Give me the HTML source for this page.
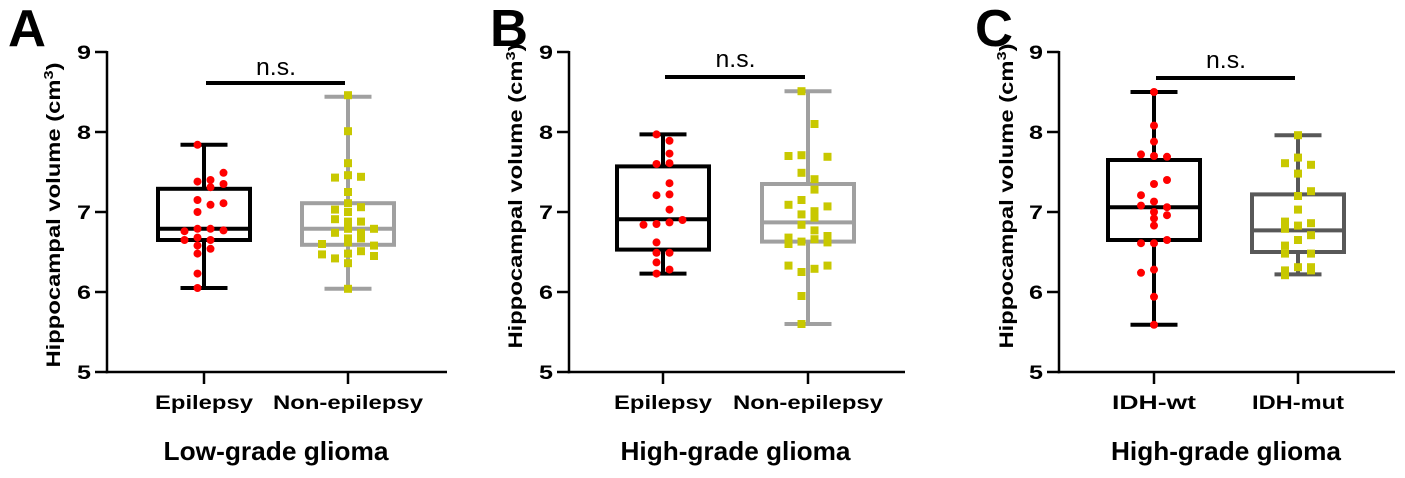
<!DOCTYPE html>
<html><head><meta charset="utf-8">
<style>
html,body{margin:0;padding:0;background:#fff;}
svg{display:block;font-family:"Liberation Sans",Arial,sans-serif;}
</style></head>
<body>
<svg id="fig" width="1405" height="478" viewBox="0 0 1405 478" xmlns="http://www.w3.org/2000/svg"></svg>
<script>
// ---- data ----
const panelLetters = ["A","B","C"];
const groupTitles = ["Low-grade glioma","High-grade glioma","High-grade glioma"];
const categoriesA = ["Epilepsy","Non-epilepsy"];
const categoriesB = ["Epilepsy","Non-epilepsy"];
const categoriesC = ["IDH-wt","IDH-mut"];
const yTicks = [5,6,7,8,9];
const yTickLabels = ["5","6","7","8","9"];
const sigLabel = "n.s.";

// box stats: [min, q1, median, q3, max]
const boxA1 = [6.05,6.65,6.79,7.29,7.84];
const boxA2 = [6.04,6.59,6.79,7.11,8.44];
const boxB1 = [6.23,6.53,6.91,7.57,7.97];
const boxB2 = [5.60,6.63,6.87,7.35,8.51];
const boxC1 = [5.59,6.65,7.06,7.65,8.50];
const boxC2 = [6.22,6.50,6.77,7.22,7.96];

const ptsA1 = [7.84,7.49,7.38,7.40,7.35,7.31,7.15,7.09,7.11,7.00,6.76,6.79,6.79,6.77,6.65,6.65,6.58,6.68,6.54,6.48,6.23,6.05];
const jitA1 = [-0.5,1.5,-0.5,0.5,1.5,0.5,-0.5,0.5,1.5,-0.5,-1.5,-0.5,0.5,1.5,-1.5,0.5,-0.5,-0.5,0.5,-0.5,-0.5,-0.5];
const ptsA2 = [8.46,8.01,7.61,7.43,7.46,7.44,7.25,7.11,7.03,7.06,7.00,6.91,6.88,6.88,6.79,6.79,6.74,6.74,6.67,6.67,6.60,6.58,6.62,6.51,6.48,6.47,6.45,6.42,6.36,6.04];
const jitA2 = [0,0,0,-1,0,1,0,0,-1,1,0,-1,1,0,0,2,-1,1,0,1,-2,2,0,1,0,-2,2,-1,0,0];
const ptsB1 = [7.97,7.89,7.73,7.60,7.61,7.36,7.21,7.22,7.03,6.84,6.85,6.87,6.90,6.62,6.49,6.49,6.37,6.23,6.28];
const jitB1 = [-0.5,0.5,0.5,-0.5,0.5,0.5,-0.5,0.5,0.5,-1.5,-0.5,0.5,1.5,-0.5,-0.5,0.5,-0.5,-0.5,0.5];
const ptsB2 = [8.51,8.10,7.70,7.71,7.69,7.49,7.41,7.28,7.09,7.15,7.07,6.97,7.01,6.93,6.84,6.77,6.68,6.70,6.66,6.63,6.60,6.62,6.33,6.33,6.29,6.25,5.95,5.60];
const jitB2 = [-0.5,0.5,-1.5,-0.5,1.5,-0.5,0.5,0.5,-1.5,-0.5,1.5,-0.5,0.5,0.5,-0.5,0.5,-1.5,1.5,0.5,-0.5,-1.5,1.5,-1.5,1.5,0.5,-0.5,-0.5,-0.5];
const ptsC1 = [8.50,8.08,7.88,7.72,7.70,7.69,7.40,7.35,7.21,7.13,7.08,7.06,7.00,6.96,6.92,6.83,6.61,6.61,6.65,6.28,6.24,5.94,5.59];
const jitC1 = [0,0,0,-1,0,1,1,0,-1,0,-1,1,0,1,0,0,-1,0,1,0,-1,0,0];
const ptsC2 = [7.96,7.68,7.61,7.59,7.48,7.26,7.20,7.03,6.88,6.86,6.83,6.79,6.71,6.65,6.58,6.48,6.48,6.31,6.31,6.27,6.21,6.27];
const jitC2 = [0,0,-1,1,0,1,0,0,-1,1,0,-1,1,0,-1,-1,1,0,1,-1,-1,1];

// ---- layout (not data) ----
const panels = [
  {axisX:107, endX:447, c1:204, c2:348, titleX:60, titleCY:215, letterX:8, cats:categoriesA, boxes:[boxA1,boxA2], pts:[ptsA1,ptsA2], jit:[jitA1,jitA2], colors:["#000","#a0a0a0"], sigY:83, nsY:75, w1:98, w2:150, gw:225},
  {axisX:569, endX:905, c1:663, c2:808, titleX:522, titleCY:196, letterX:490, cats:categoriesB, boxes:[boxB1,boxB2], pts:[ptsB1,ptsB2], jit:[jitB1,jitB2], colors:["#000","#a0a0a0"], sigY:77, nsY:67, w1:98, w2:150, gw:230},
  {axisX:1059, endX:1395, c1:1154, c2:1298, titleX:1013, titleCY:196, letterX:975, cats:categoriesC, boxes:[boxC1,boxC2], pts:[ptsC1,ptsC2], jit:[jitC1,jitC2], colors:["#000","#585858"], sigY:78, nsY:68, w1:84, w2:92, gw:230}
];
const Y0 = 372, PX_PER = 80;
function yScale(v){ return Y0 - (v - 5) * PX_PER; }
const NS = "http://www.w3.org/2000/svg";
const svg = document.getElementById("fig");
function mk(tag, attrs, parent){
  const e = document.createElementNS(NS, tag);
  for (const k in attrs) e.setAttribute(k, attrs[k]);
  (parent || svg).appendChild(e);
  return e;
}

panels.forEach((p, pi) => {
  const g = mk("g", {});
  
  

  const L = mk("text", {x:p.letterX, y:46, "font-size":52, "font-weight":"bold", textLength:38, lengthAdjust:"spacingAndGlyphs"}, g);
  L.textContent = panelLetters[pi];
  
  

  // y axis
  const ya = mk("line", {x1:p.axisX, y1:yScale(9)-1, x2:p.axisX, y2:Y0+1.25, stroke:"#000", "stroke-width":2.5}, g);
  
  
  yTicks.forEach((t, i) => {
    const tk = mk("line", {x1:p.axisX-12, y1:yScale(t), x2:p.axisX, y2:yScale(t), stroke:"#000", "stroke-width":2.5}, g);
    
    
    const tl = mk("text", {x:p.axisX-16, y:yScale(t)+7, "font-size":19, "font-weight":"bold", "text-anchor":"end", textLength:14, lengthAdjust:"spacingAndGlyphs"}, g);
    tl.textContent = yTickLabels[i];
    
    
  });
  // y title
  const yt = mk("text", {x:0, y:0, "font-size":19, "font-weight":"bold", "text-anchor":"middle", textLength:305, lengthAdjust:"spacingAndGlyphs", transform:`translate(${p.titleX},${p.titleCY}) rotate(-90)`}, g);
  
  
  yt.appendChild(document.createTextNode("Hippocampal volume (cm"));
  const sup = mk("tspan", {"baseline-shift":"super", "font-size":13}, yt);
  sup.textContent = "3";
  yt.appendChild(document.createTextNode(")"));

  // x axis
  const xa = mk("line", {x1:p.axisX-1.25, y1:Y0, x2:p.endX, y2:Y0, stroke:"#000", "stroke-width":2.5}, g);
  
  
  const cx = [p.c1, p.c2], cw = [p.w1, p.w2];
  cx.forEach((c, i) => {
    const tk = mk("line", {x1:c, y1:Y0, x2:c, y2:Y0+12, stroke:"#000", "stroke-width":2.5}, g);
    
    
    const tl = mk("text", {x:c, y:409, "font-size":19, "font-weight":"bold", "text-anchor":"middle", textLength:cw[i], lengthAdjust:"spacingAndGlyphs"}, g);
    tl.textContent = p.cats[i];
    
    
  });
  const gt = mk("text", {x:(p.c1+p.c2)/2, y:460, "font-size":26, "font-weight":"bold", "text-anchor":"middle", textLength:p.gw, lengthAdjust:"spacingAndGlyphs"}, g);
  gt.textContent = groupTitles[pi];
  
  

  // boxes
  p.boxes.forEach((b, i) => {
    const c = cx[i], col = p.colors[i];
    const bg = mk("g", {stroke:col, "stroke-width":4, fill:"none"}, g);
    
    
    mk("line", {x1:c, y1:yScale(b[4]), x2:c, y2:yScale(b[3])}, bg);
    mk("line", {x1:c, y1:yScale(b[1]), x2:c, y2:yScale(b[0])}, bg);
    mk("line", {x1:c-23.5, y1:yScale(b[4]), x2:c+23.5, y2:yScale(b[4])}, bg);
    mk("line", {x1:c-23.5, y1:yScale(b[0]), x2:c+23.5, y2:yScale(b[0])}, bg);
    mk("rect", {x:c-46, y:yScale(b[3]), width:92, height:yScale(b[1])-yScale(b[3]), fill:"#fff"}, bg);
    mk("line", {x1:c-46, y1:yScale(b[2]), x2:c+46, y2:yScale(b[2])}, bg);
  });
  // points
  p.pts.forEach((arr, i) => {
    const c = cx[i];
    arr.forEach((v, k) => {
      const x = c + p.jit[i][k] * 13, y = yScale(v);
      let m;
      if (i === 0) {
        m = mk("circle", {cx:x, cy:y, r:4, fill:"#ff0000"}, g);
        
      } else {
        m = mk("rect", {x:x-4, y:y-4, width:8, height:8, fill:"#c8c800"}, g);
        
      }
      
    });
  });
  // significance
  const sb = mk("line", {x1:p.c1+2, y1:p.sigY, x2:p.c2-3, y2:p.sigY, stroke:"#000", "stroke-width":4}, g);
  
  
  const ns = mk("text", {x:(p.c1+p.c2)/2, y:p.nsY, "font-size":24, "text-anchor":"middle", textLength:40, lengthAdjust:"spacingAndGlyphs"}, g);
  ns.textContent = sigLabel;
  
  
});
</script>
</body></html>
